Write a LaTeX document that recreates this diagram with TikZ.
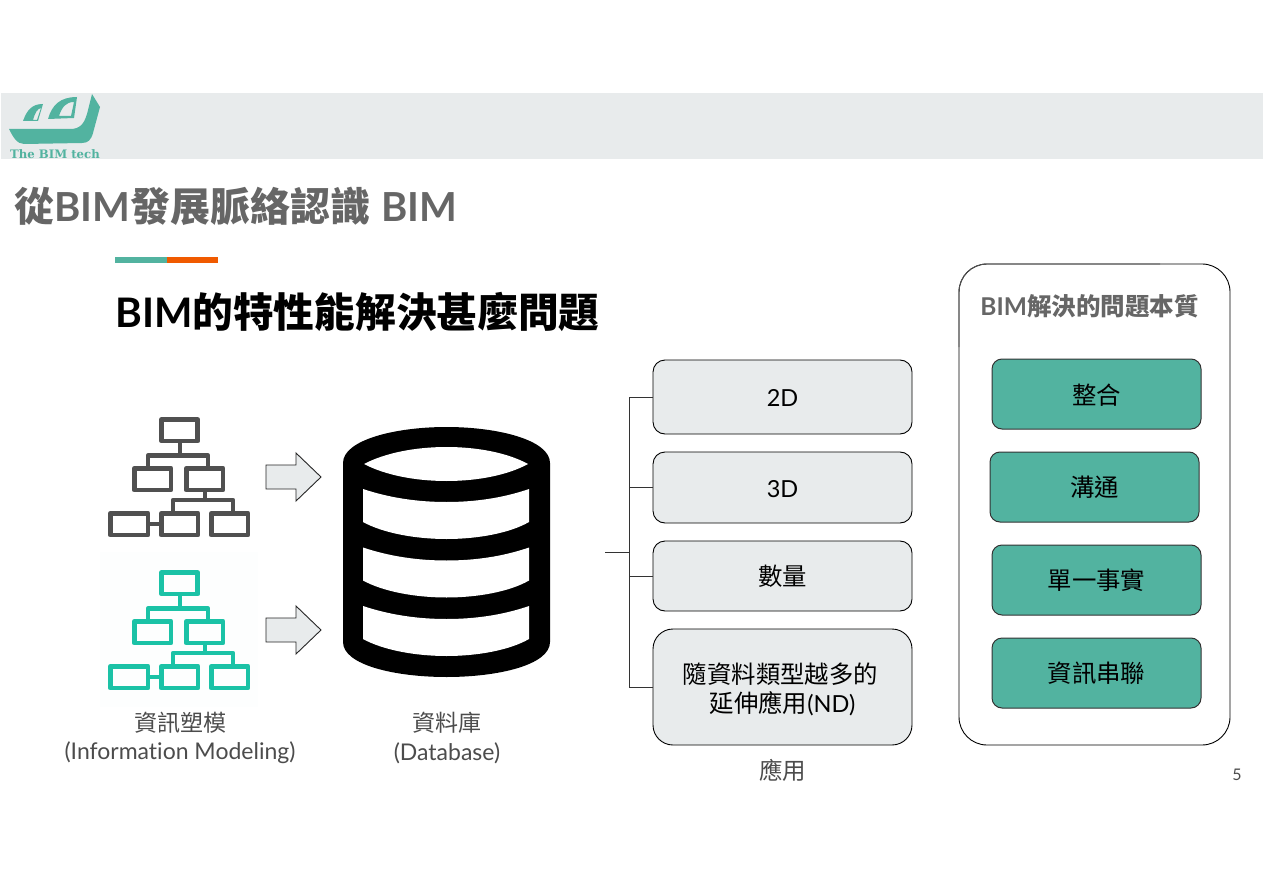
\documentclass[tikz,border=0pt]{standalone}
\usepackage{fontspec}
\setmainfont{Lato}[Ligatures=NoCommon]
\newfontfamily\cj{Noto Sans CJK TC}
\newfontfamily\logofont{DejaVu Serif}
\definecolor{band}{HTML}{E8EBEC}
\definecolor{teal}{HTML}{52B3A0}
\definecolor{orangebar}{HTML}{F05A00}
\definecolor{titlegray}{HTML}{666666}
\definecolor{icongray}{HTML}{505050}
\definecolor{iconteal}{HTML}{1BC2A6}
\definecolor{faint}{HTML}{FDFEFE}
\newcommand{\sz}[1]{\fontsize{#1}{#1}\selectfont}
\newcommand{\dn}{\rule{0pt}{0.9em}}
\newcommand{\dnl}{\rule{0pt}{0.82em}}
\newcommand{\treeicon}[2]{%
  \begin{scope}[yshift=#2,draw=#1,line width=4.7pt,line join=round]
    \draw (161.5,419.5) rectangle (197.8,441);
    \draw (134.2,468.2) rectangle (171,490);
    \draw (186.2,468.2) rectangle (223,490);
    \draw (110.2,513.2) rectangle (148,535);
    \draw (161.2,513.2) rectangle (198,535);
    \draw (211.2,513.2) rectangle (248,535);
    \draw (180,441) -- (180,455.5);
    \draw (148,468) -- (148,455.5) -- (208,455.5) -- (208,468);
    \draw (205,490) -- (205,500);
    \draw (173,513) -- (173,500) -- (233,500) -- (233,513);
    \draw (148,524) -- (161,524);
  \end{scope}}
\tikzset{
  appbox/.style={draw=black,line width=0.9pt,fill=band,rounded corners=12pt,inner sep=0pt,minimum width=259pt,align=center,font=\cj\sz{24.4},text=black},
  greenbox/.style={draw=black!80,line width=1pt,fill=teal,rounded corners=10pt,inner sep=0pt,minimum width=209pt,minimum height=70pt,font=\cj\sz{24.4},text=black},
  caption/.style={inner sep=0pt,align=center,text=black!70,font=\sz{23}},
  bigarrow/.style={draw=black!85,line width=0.9pt,fill=band,line join=miter},
  bracket/.style={draw=black!80,line width=1pt}
}
\begin{document}
\begin{tikzpicture}[x=1pt,y=-1pt]
\useasboundingbox (0,0) rectangle (1263,893);
\fill[white] (0,0) rectangle (1263,893);
% header band
\fill[band] (1,93) rectangle (1263,159);
% logo
\fill[teal] (9,129) -- (70,129) .. controls (80,129) and (84,124) .. (87,114) -- (92,94) -- (100,107) -- (93,133) .. controls (91,140) and (88,143) .. (82,143) -- (24,144) .. controls (17,144) and (13,137) .. (9,129) -- cycle;
\fill[teal,even odd rule] (23,121) .. controls (27,110) and (32,104) .. (43,104) -- (38,121) -- cycle
  (33,120) -- (37,120) -- (41,108) .. controls (37,109) and (35,113) .. (33,120) -- cycle;
\fill[teal,even odd rule] (48,119) .. controls (52,105) and (60,97) .. (77,97) -- (74,118) -- cycle
  (59,116) -- (71,116) -- (74,102) .. controls (66,102) and (62,107) .. (59,116) -- cycle;
\node[inner sep=0pt,anchor=base west,text=teal] (logotext) at (10,159) {\logofont\bfseries\sz{11.7}The BIM tech};
% titles
\node[inner sep=0pt,anchor=west,text=titlegray] (title) at (14,206) {\sz{40}\cj\bfseries 從{\rmfamily\bfseries BIM}發展脈絡認識{\rmfamily\bfseries\ \kern1.5pt BIM}};
\fill[teal] (115,257) rectangle (167,263);
\fill[orangebar] (167,257) rectangle (218,263);
\node[inner sep=0pt,anchor=west,text=black] (subtitle) at (115,311.5) {\sz{40.7}\cj\bfseries {\rmfamily\bfseries BIM}的特性能解決甚麼問題};
% icons
\fill[faint] (100,552) rectangle (258,707);
\treeicon{icongray}{0pt}
\treeicon{iconteal}{-153pt}
% arrows
\draw[bigarrow] (266,465) -- (296,465) -- (296,453) -- (321,477) -- (296,501) -- (296,489) -- (266,489) -- cycle;
\draw[bigarrow] (266,618) -- (296,618) -- (296,606) -- (321,630) -- (296,654) -- (296,642) -- (266,642) -- cycle;
% database
\fill[black] (343,463) .. controls (343,440) and (395,427) .. (446.5,427) .. controls (498,427) and (550,440) .. (550,463) -- (550,642) .. controls (550,665) and (498,677) .. (446.5,677) .. controls (395,677) and (343,665) .. (343,642) -- cycle;
\fill[white] (364,464) .. controls (385,475) and (415,481) .. (446.5,481) .. controls (478,481) and (508,475) .. (528,464) .. controls (508,453) and (478,447) .. (446.5,447) .. controls (415,447) and (385,453) .. (364,464) -- cycle;
\foreach \d in {0,58.5,117}{
\fill[white,yshift=-\d pt] (363,489) .. controls (390,498) and (418,502) .. (446.5,502) .. controls (475,502) and (503,498) .. (529,489) -- (529,522) .. controls (510,533) and (478,539) .. (446.5,539) .. controls (415,539) and (383,533) .. (363,522) -- cycle;
}
% captions
\node[caption] (capinfo) at (180,738) {{\cj 資訊塑模}\\[5.5pt](Information Modeling)};
\node[caption] (capdb) at (447,738) {{\cj 資料庫}\\[5.5pt](Database)};
\node[caption] (capapp) at (782.5,770) {\cj\sz{23.5}應用};
\node[inner sep=0pt,text=black!70,font=\sz{16}] (pagenum) at (1237,775) {5};
% application boxes
\node[appbox,minimum height=74pt] (boxa) at (782.5,397) {\rmfamily\sz{23.5}\dnl 2D};
\node[appbox,minimum height=71pt] (boxb) at (782.5,487.5) {\rmfamily\sz{23.5}\dnl 3D};
\node[appbox,minimum height=70pt] (boxc) at (782.5,576) {\dn 數量};
\node[appbox,minimum height=116pt,rounded corners=20pt] (boxd) at (782.5,687) {\rule{0pt}{1.05em}\hspace*{-4pt}隨資料類型越多的\\[4pt]延伸應用{\rmfamily\sz{23.5}(ND)}};
% bracket
\coordinate (stub) at (605,552);
\coordinate (trunk) at (629,552);
\draw[bracket] (stub) -- (trunk);
\draw[bracket] (trunk) |- (boxa.west);
\draw[bracket] (trunk) |- (boxb.west);
\draw[bracket] (trunk) |- (boxc.west);
\draw[bracket] (trunk) |- (boxd.west);
% panel
\node[draw=black,line width=0.9pt,fill=white,rounded corners=28pt,minimum width=271pt,minimum height=481pt,inner sep=0pt] (panel) at (1094.5,504.5) {};
\draw[icongray,line width=0.9pt] (959,347) -- (959,292) .. controls (959,276.5) and (971.5,264) .. (987,264) -- (1160,264);
\node[inner sep=0pt,text=titlegray] (paneltitle) at (1089.5,306) {\sz{24.5}\cj\bfseries {\rmfamily\bfseries BIM}解決的問題本質};
\node[greenbox] (g1) at (1096.5,394) {\dn 整合};
\node[greenbox] (g2) at (1094.5,487) {\dn 溝通};
\node[greenbox] (g3) at (1096.5,580) {\dn 單一事實};
\node[greenbox] (g4) at (1096.5,673) {\dn 資訊串聯};
\end{tikzpicture}
\end{document}
